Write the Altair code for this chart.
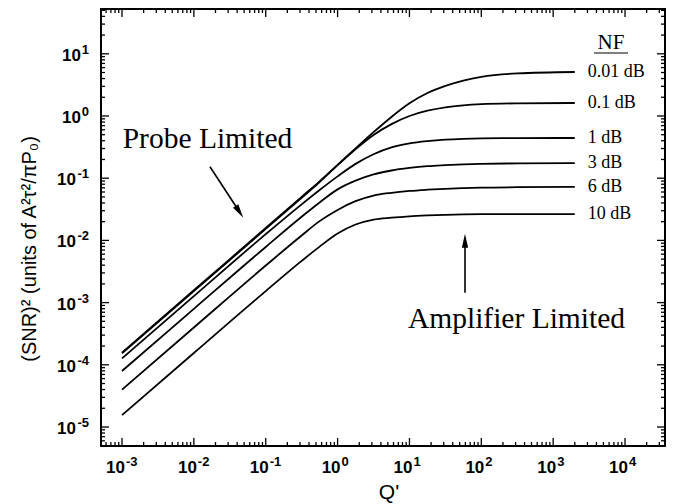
import altair as alt
import pandas as pd

# ---------------- data ----------------
Q = [0.001, 0.01, 0.1, 0.316, 0.562, 1, 1.778, 3.162, 5.623, 10, 17.78, 31.62, 56.23, 100, 316.2, 2000]

nf_labels = ["0.01 dB", "0.1 dB", "1 dB", "3 dB", "6 dB", "10 dB"]

snr_001 = [1.57e-4, 1.58e-3, 0.0158, 0.0501, 0.0891, 0.164, 0.302, 0.550, 0.966, 1.60, 2.344, 3.055, 3.715, 4.266, 4.842, 5.093]
snr_01 = [1.53e-4, 1.53e-3, 0.0153, 0.0484, 0.0867, 0.162, 0.292, 0.495, 0.741, 1.00, 1.216, 1.380, 1.486, 1.549, 1.596, 1.618]
snr_1 = [1.27e-4, 1.27e-3, 0.0126, 0.0380, 0.0646, 0.107, 0.170, 0.243, 0.313, 0.363, 0.395, 0.417, 0.430, 0.437, 0.441, 0.443]
snr_3 = [7.94e-5, 7.94e-4, 7.85e-3, 0.0240, 0.0407, 0.0661, 0.0912, 0.115, 0.133, 0.146, 0.156, 0.162, 0.167, 0.170, 0.173, 0.175]
snr_6 = [3.98e-5, 3.98e-4, 3.94e-3, 0.0120, 0.0204, 0.0309, 0.0427, 0.0525, 0.0582, 0.0624, 0.0653, 0.0676, 0.0692, 0.0705, 0.0716, 0.0724]
snr_10 = [1.55e-5, 1.55e-4, 1.53e-3, 4.68e-3, 7.94e-3, 0.0129, 0.0180, 0.0216, 0.0232, 0.0244, 0.0252, 0.0258, 0.0262, 0.0264, 0.0265, 0.0265]

series = [snr_001, snr_01, snr_1, snr_3, snr_6, snr_10]

x_exps = [-3, -2, -1, 0, 1, 2, 3, 4]
y_exps = [-5, -4, -3, -2, -1, 0, 1]

x_domain = [5.1e-4, 3.6e4]
y_domain = [4.95e-6, 52.5]

W, H = 564, 437

# ---------------- tables ----------------
rows = []
for lab, ser in zip(nf_labels, series):
    for q, s in zip(Q, ser):
        rows.append({"Q": q, "S": s, "NF": lab})
df = pd.DataFrame(rows)

end_df = pd.DataFrame({"Q": [Q[-1]] * len(nf_labels),
                       "S": [s[-1] for s in series],
                       "NF": nf_labels})

x_major_vals = [10.0 ** e for e in x_exps]
x_minor_vals = [m * 10.0 ** e for e in range(-4, 5) for m in range(2, 10)
                if x_domain[0] <= m * 10.0 ** e <= x_domain[1]]
y_major_vals = [10.0 ** e for e in y_exps]
y_minor_vals = [m * 10.0 ** e for e in range(-6, 2) for m in range(2, 10)
                if y_domain[0] <= m * 10.0 ** e <= y_domain[1]]

x_major = pd.DataFrame({"Q": x_major_vals, "e": [str(e) for e in x_exps]})
y_major = pd.DataFrame({"S": y_major_vals, "e": [str(e) for e in y_exps],
                        "neg": [e < 0 for e in y_exps]})

# tick segments and frame, drawn as short lines through the same log scales
px_per_dec_x = W / (pd.Series(x_domain).apply(lambda v: __import__("math").log10(v)).diff().iloc[1])
px_per_dec_y = H / (pd.Series(y_domain).apply(lambda v: __import__("math").log10(v)).diff().iloc[1])
seg = []
tid = 0
for vals, L in [(x_major_vals, 8), (x_minor_vals, 4)]:
    fy = 10 ** (L / px_per_dec_y)
    for v in vals:
        seg += [{"Q": v, "S": y_domain[0], "id": tid, "o": 0}, {"Q": v, "S": y_domain[0] * fy, "id": tid, "o": 1}]
        tid += 1
        seg += [{"Q": v, "S": y_domain[1], "id": tid, "o": 0}, {"Q": v, "S": y_domain[1] / fy, "id": tid, "o": 1}]
        tid += 1
for vals, L in [(y_major_vals, 8), (y_minor_vals, 4)]:
    fx = 10 ** (L / px_per_dec_x)
    for v in vals:
        seg += [{"Q": x_domain[0], "S": v, "id": tid, "o": 0}, {"Q": x_domain[0] * fx, "S": v, "id": tid, "o": 1}]
        tid += 1
        seg += [{"Q": x_domain[1], "S": v, "id": tid, "o": 0}, {"Q": x_domain[1] / fx, "S": v, "id": tid, "o": 1}]
        tid += 1
tick_df = pd.DataFrame(seg)

frame_df = pd.DataFrame({"Q": [x_domain[0], x_domain[1], x_domain[1], x_domain[0], x_domain[0]],
                         "S": [y_domain[0], y_domain[0], y_domain[1], y_domain[1], y_domain[0]],
                         "o": [0, 1, 2, 3, 4]})

one = pd.DataFrame({"a": [0]})

xs = alt.Scale(type="log", domain=x_domain, nice=False)
ys = alt.Scale(type="log", domain=y_domain, nice=False)

SANS = "Liberation Sans"
SERIF = "Liberation Serif"

hidden_axis = alt.Axis(labels=False, ticks=False, domain=False, grid=False, title=None)

layers = []

# invisible extent marker: fixes the overall chart bounds (676 x 504 with default padding)
layers.append(alt.Chart(one).mark_rule(opacity=0, strokeWidth=0.01).encode(
    x=alt.value(-96), x2=alt.value(W + 6), y=alt.value(-3), y2=alt.value(H + 54)))

# curves
layers.append(
    alt.Chart(df).mark_line(color="black", strokeWidth=1.8, interpolate="monotone").encode(
        x=alt.X("Q:Q", scale=xs, axis=hidden_axis),
        y=alt.Y("S:Q", scale=ys, axis=hidden_axis),
        detail="NF:N",
    )
)

# inward ticks on all four sides
layers.append(alt.Chart(tick_df).mark_line(color="black", strokeWidth=1.3).encode(
    x=alt.X("Q:Q", scale=xs), y=alt.Y("S:Q", scale=ys), detail="id:N", order="o:Q"))

# frame
layers.append(alt.Chart(frame_df).mark_line(color="black", strokeWidth=2).encode(
    x=alt.X("Q:Q", scale=xs), y=alt.Y("S:Q", scale=ys), order="o:Q"))

# x tick labels
layers.append(alt.Chart(x_major).mark_text(
    align="right", baseline="alphabetic", dx=3, font=SANS, fontWeight="bold", fontSize=17, color="black"
).encode(x=alt.X("Q:Q", scale=xs), y=alt.value(H + 27), text=alt.value("10")))
layers.append(alt.Chart(x_major).mark_text(
    align="left", baseline="alphabetic", dx=4, font=SANS, fontWeight="bold", fontSize=13, color="black"
).encode(x=alt.X("Q:Q", scale=xs), y=alt.value(H + 20), text="e:N"))

# y tick labels
layers.append(alt.Chart(y_major).transform_filter("!datum.neg").mark_text(
    align="right", baseline="alphabetic", dy=7, font=SANS, fontWeight="bold", fontSize=17, color="black"
).encode(y=alt.Y("S:Q", scale=ys), x=alt.value(-20), text=alt.value("10")))
layers.append(alt.Chart(y_major).transform_filter("datum.neg").mark_text(
    align="right", baseline="alphabetic", dy=7, font=SANS, fontWeight="bold", fontSize=17, color="black"
).encode(y=alt.Y("S:Q", scale=ys), x=alt.value(-25), text=alt.value("10")))
layers.append(alt.Chart(y_major).mark_text(
    align="right", baseline="alphabetic", dy=0, font=SANS, fontWeight="bold", fontSize=13, color="black"
).encode(y=alt.Y("S:Q", scale=ys), x=alt.value(-12), text="e:N"))

# axis titles
layers.append(alt.Chart(one).mark_text(
    align="center", baseline="middle", angle=270, font=SANS, fontSize=20, color="black"
).encode(x=alt.value(-71), y=alt.value(240), text=alt.value("(SNR)² (units of A²τ²/πP₀)")))
layers.append(alt.Chart(one).mark_text(
    align="center", baseline="alphabetic", font=SANS, fontSize=21, color="black"
).encode(x=alt.value(288), y=alt.value(490), text=alt.value("Q'")))

# NF labels
layers.append(alt.Chart(end_df).mark_text(
    align="left", baseline="middle", dx=13, font=SERIF, fontSize=18, color="black"
).encode(x=alt.X("Q:Q", scale=xs), y=alt.Y("S:Q", scale=ys), text="NF:N"))
layers.append(alt.Chart(one).mark_text(
    align="center", baseline="middle", font=SERIF, fontSize=21, color="black"
).encode(x=alt.value(510), y=alt.value(34), text=alt.value("NF")))
layers.append(alt.Chart(one).mark_rule(color="black", strokeWidth=1.2).encode(
    x=alt.value(493), x2=alt.value(527), y=alt.value(44)))

# annotations
layers.append(alt.Chart(one).mark_text(
    align="center", baseline="middle", font=SERIF, fontSize=29.5, color="black"
).encode(x=alt.value(106.5), y=alt.value(130), text=alt.value("Probe Limited")))
layers.append(alt.Chart(one).mark_text(
    align="center", baseline="middle", font=SERIF, fontSize=29.5, color="black"
).encode(x=alt.value(415.5), y=alt.value(310), text=alt.value("Amplifier Limited")))

# arrows
HEAD = "M0,0L0.45,2L-0.45,2Z"
layers.append(alt.Chart(one).mark_rule(color="black", strokeWidth=1.6).encode(
    x=alt.value(109), y=alt.value(157.7), x2=alt.value(136.8), y2=alt.value(200.3)))
layers.append(alt.Chart(one).mark_point(shape=HEAD, filled=True, color="black", size=196,
                                        angle=146.8, opacity=1).encode(
    x=alt.value(142.3), y=alt.value(208.7)))
layers.append(alt.Chart(one).mark_rule(color="black", strokeWidth=1.6).encode(
    x=alt.value(364), y=alt.value(283.7), y2=alt.value(234)))
layers.append(alt.Chart(one).mark_point(shape=HEAD, filled=True, color="black", size=196,
                                        angle=0, opacity=1).encode(
    x=alt.value(364), y=alt.value(224.7)))

chart = alt.layer(*layers).properties(
    width=W, height=H,
).configure_view(stroke="black", strokeWidth=2)

chart.save("out.html", embed_options={"renderer": "svg", "actions": False})
